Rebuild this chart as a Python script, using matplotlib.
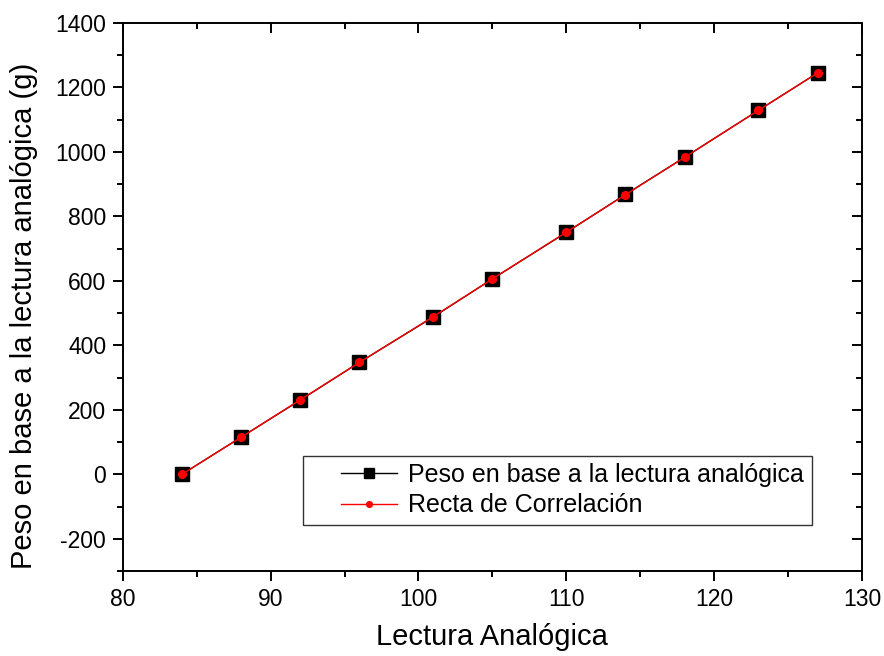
import numpy as np
import matplotlib.pyplot as plt
from matplotlib.ticker import MultipleLocator
from matplotlib.legend_handler import HandlerLine2D

plt.rcParams['font.family'] = ['Liberation Sans', 'DejaVu Sans']

lectura = [84, 88, 92, 96, 101, 105, 110, 114, 118, 123, 127]
peso = [0, 115, 230, 347, 488, 606, 750, 868, 983, 1129, 1245]
recta = [0, 115, 231, 347, 489, 606, 751, 867, 983, 1129, 1245]


def main():
    fig = plt.figure(figsize=(8.84, 6.56), dpi=100)
    ax = fig.add_axes([0.139, 0.1296, 0.836, 0.8354])

    l1, = ax.plot(lectura, peso, color='black', lw=1, marker='s', ms=9.5,
                  mec='black', mfc='black', label='Peso en base a la lectura analógica')
    l2, = ax.plot(lectura, recta, color='red', lw=1, marker='o', ms=5.5,
                  mec='red', mfc='red', label='Recta de Correlación')

    ax.set_xlim(80, 130)
    ax.set_ylim(-300, 1400)
    ax.xaxis.set_major_locator(MultipleLocator(10))
    ax.xaxis.set_minor_locator(MultipleLocator(5))
    ax.yaxis.set_major_locator(MultipleLocator(200))
    ax.yaxis.set_minor_locator(MultipleLocator(100))
    ax.yaxis.set_major_formatter(lambda v, p: f'{v:.0f}')

    for s in ax.spines.values():
        s.set_linewidth(1.4)
    ax.tick_params(which='both', direction='out', width=1.4, labelsize=16.5, pad=5)
    ax.tick_params(which='major', length=7)
    ax.tick_params(which='minor', length=4.5)
    # top/right ticks point inward
    ax.tick_params(which='both', top=True, right=True, labeltop=False, labelright=False)
    for t in ax.xaxis.get_ticklines(minor=False)[1::2] + ax.xaxis.get_ticklines(minor=True)[1::2]:
        t.set_marker(3)
    for t in ax.yaxis.get_ticklines(minor=False)[1::2] + ax.yaxis.get_ticklines(minor=True)[1::2]:
        t.set_marker(0)

    ax.set_xlabel('Lectura Analógica', fontsize=21, labelpad=9)
    ax.set_ylabel('Peso en base a la lectura analógica (g)', fontsize=21)
    ax.yaxis.set_label_coords(-0.115, 0.465)

    hm = {l1: HandlerLine2D(xpad=1.2), l2: HandlerLine2D(xpad=1.2)}
    leg = ax.legend(loc='lower right', bbox_to_anchor=(0.932, 0.084), borderaxespad=0,
                    fontsize=18, frameon=True, fancybox=False, edgecolor='black',
                    handlelength=3.45, handletextpad=0.45, borderpad=0.3,
                    labelspacing=0.25, markerscale=0.75, handler_map=hm)
    leg.get_frame().set_linewidth(1.0)

    fig.savefig('out.png', dpi=100)


if __name__ == "__main__":
    main()
